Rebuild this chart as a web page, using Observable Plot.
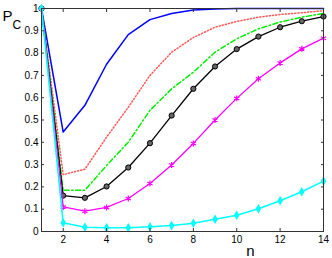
<!DOCTYPE html>
<html>
<head>
<meta charset="utf-8">
<script src="https://cdn.jsdelivr.net/npm/d3@7"></script>
<script src="https://cdn.jsdelivr.net/npm/@observablehq/plot@0.6"></script>
<style>
  html, body { margin: 0; padding: 0; background: white; }
</style>
</head>
<body>
<div id="chart"></div>
<script>
const nValues = [1, 2, 3, 4, 5, 6, 7, 8, 9, 10, 11, 12, 13, 14];
const blueValues    = [1, 0.446, 0.566, 0.75, 0.883, 0.95, 0.978, 0.993, 0.998, 1, 1, 1, 1, 1];
const redValues     = [1, 0.255, 0.279, 0.423, 0.557, 0.70, 0.804, 0.87, 0.916, 0.942, 0.961, 0.973, 0.981, 0.99];
const greenValues   = [1, 0.185, 0.185, 0.296, 0.40, 0.543, 0.64, 0.714, 0.804, 0.864, 0.909, 0.939, 0.961, 0.978];
const blackValues   = [1, 0.161, 0.151, 0.202, 0.287, 0.396, 0.52, 0.64, 0.74, 0.818, 0.874, 0.916, 0.943, 0.964];
const magentaValues = [1, 0.11, 0.091, 0.108, 0.148, 0.215, 0.298, 0.395, 0.50, 0.597, 0.685, 0.756, 0.819, 0.867];
const cyanValues    = [1, 0.039, 0.019, 0.017, 0.017, 0.021, 0.027, 0.037, 0.055, 0.073, 0.102, 0.138, 0.178, 0.226];
const xTicks = [2, 4, 6, 8, 10, 12, 14];
const yTicks = [0, 0.1, 0.2, 0.3, 0.4, 0.5, 0.6, 0.7, 0.8, 0.9, 1];

const toRows = (vals) => nValues.map((n, i) => ({n, p: vals[i]}));
const blue = toRows(blueValues);
const red = toRows(redValues);
const green = toRows(greenValues);
const black = toRows(blackValues);
const magenta = toRows(magentaValues);
const cyan = toRows(cyanValues);

const yFmt = d => (d === 0 || d === 1) ? String(d) : d.toFixed(1);
const axisColor = "#333";

const chart = Plot.plot({
  width: 332,
  height: 258,
  marginLeft: 41,
  marginRight: 9,
  marginTop: 8,
  marginBottom: 27,
  style: {fontFamily: "'Liberation Sans', Arial, sans-serif", fontSize: "10px", background: "white", color: "black", overflow: "visible"},
  x: {domain: [1, 14]},
  y: {domain: [0, 1]},
  marks: [
    Plot.line(blue, {x: "n", y: "p", stroke: "#0000ff", strokeWidth: 1.5}),
    Plot.line(red, {x: "n", y: "p", stroke: "#ff5a5a", strokeWidth: 1.5, strokeDasharray: "1.2,2"}),
    Plot.line(green, {x: "n", y: "p", stroke: "#00ee00", strokeWidth: 1.5, strokeDasharray: "5,2.5,1.5,2.5"}),
    Plot.line(black, {x: "n", y: "p", stroke: "black", strokeWidth: 1.3}),
    Plot.dot(black, {x: "n", y: "p", r: 2.6, stroke: "black", fill: "#666", strokeWidth: 1}),
    Plot.line(magenta, {x: "n", y: "p", stroke: "#ff00ff", strokeWidth: 1.3}),
    Plot.dot(magenta, {x: "n", y: "p", r: 2.8, symbol: "asterisk", stroke: "#ff00ff", strokeWidth: 1.2}),
    Plot.line(cyan, {x: "n", y: "p", stroke: "#00ffff", strokeWidth: 1.6}),
    Plot.dot(cyan, {x: "n", y: "p", r: 2, symbol: "diamond", fill: "#00ffff", stroke: "#00ffff"}),
    Plot.frame({stroke: axisColor}),
    Plot.axisX({ticks: xTicks, tickSize: -3, tickPadding: 7, label: null, stroke: axisColor}),
    Plot.axisX({ticks: xTicks, anchor: "top", tickSize: -3, tickFormat: () => "", label: null, stroke: axisColor}),
    Plot.axisY({ticks: yTicks, tickSize: -3, tickPadding: 6, tickFormat: yFmt, label: null, stroke: axisColor}),
    Plot.axisY({ticks: yTicks, anchor: "right", tickSize: -3, tickFormat: () => "", label: null, stroke: axisColor}),
    Plot.text(["P"], {frameAnchor: "top-left", dx: -39, dy: 12, fontSize: 15, textAnchor: "start", lineAnchor: "bottom"}),
    Plot.text(["C"], {frameAnchor: "top-left", dx: -29, dy: 20, fontSize: 12, textAnchor: "start", lineAnchor: "bottom"}),
    Plot.text(["n"], {frameAnchor: "bottom", dx: 68, dy: 24, fontSize: 15, textAnchor: "middle", lineAnchor: "bottom"})
  ]
});
document.getElementById("chart").appendChild(chart);
</script>
</body>
</html>
